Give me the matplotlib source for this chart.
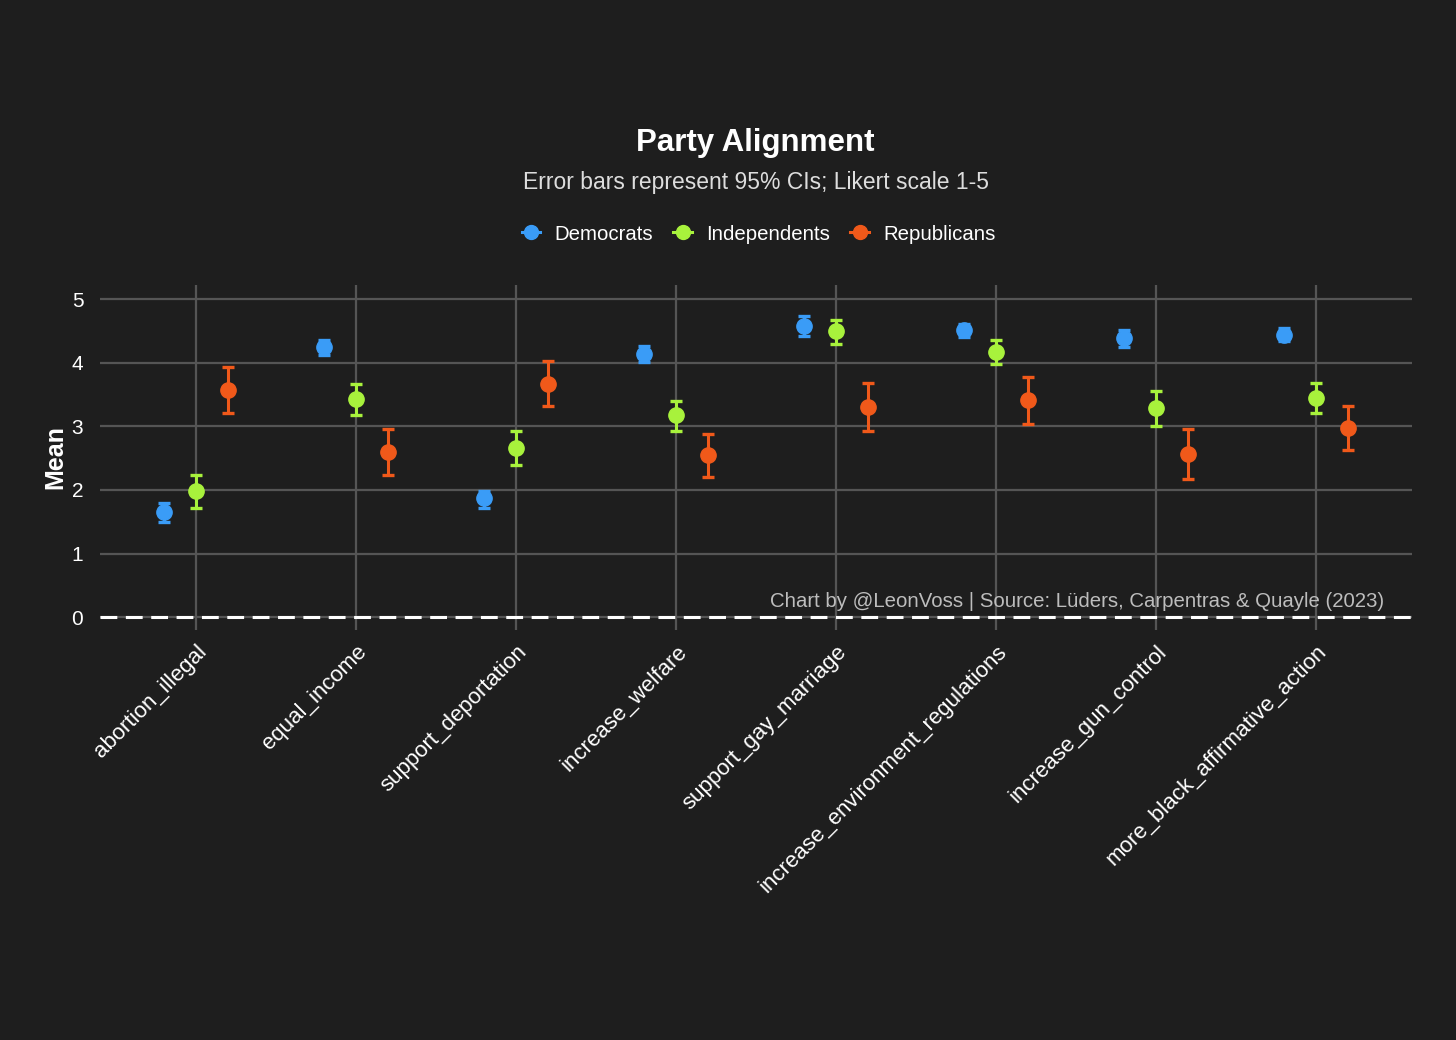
import matplotlib.pyplot as plt
from matplotlib.lines import Line2D
import numpy as np

plt.rcParams['font.family'] = ['Liberation Sans', 'DejaVu Sans']

# data
items = ["abortion_illegal", "equal_income", "support_deportation", "increase_welfare",
         "support_gay_marriage", "increase_environment_regulations",
         "increase_gun_control", "more_black_affirmative_action"]
parties = ["Democrats", "Independents", "Republicans"]

dem_mean = [1.65, 4.25, 1.87, 4.14, 4.58, 4.51, 4.39, 4.44]
dem_lo = [1.49, 4.12, 1.71, 4.01, 4.42, 4.40, 4.25, 4.34]
dem_hi = [1.80, 4.36, 1.99, 4.26, 4.73, 4.61, 4.51, 4.55]

ind_mean = [1.99, 3.43, 2.66, 3.17, 4.50, 4.17, 3.29, 3.45]
ind_lo = [1.72, 3.18, 2.40, 2.92, 4.29, 3.98, 3.01, 3.21]
ind_hi = [2.24, 3.67, 2.92, 3.40, 4.67, 4.36, 3.56, 3.68]

rep_mean = [3.57, 2.59, 3.67, 2.55, 3.31, 3.42, 2.57, 2.98]
rep_lo = [3.21, 2.24, 3.32, 2.21, 2.92, 3.04, 2.18, 2.63]
rep_hi = [3.93, 2.95, 4.03, 2.88, 3.68, 3.78, 2.96, 3.32]

colors = ["#3a9cf7", "#a8f23c", "#f0591a"]
bg = "#1e1e1e"

fig = plt.figure(figsize=(14.56, 10.4), dpi=100, facecolor=bg)
ax = fig.add_axes([100 / 1456, 1 - 630 / 1040, 1312 / 1456, 345 / 1040])
ax.set_facecolor(bg)

x = np.arange(1, len(items) + 1)
series = [(dem_mean, dem_lo, dem_hi), (ind_mean, ind_lo, ind_hi), (rep_mean, rep_lo, rep_hi)]
offsets = [-0.2, 0.0, 0.2]
for (m, lo, hi), off, c in zip(series, offsets, colors):
    m = np.array(m)
    err = [m - np.array(lo), np.array(hi) - m]
    ax.errorbar(x + off, m, yerr=err, fmt='o', color=c, ms=11, elinewidth=2.2,
                capsize=4.6, capthick=2.4, zorder=3)

# zero reference line
ax.axhline(0, color='white', lw=2.2, dashes=(5.5, 2.8), zorder=2)

ax.set_xlim(0.4, 8.6)
ax.set_ylim(-0.2, 5.22)
ax.set_yticks([0, 1, 2, 3, 4, 5])
ax.set_xticks(x)
ax.set_xticklabels(items, rotation=45, ha='right', va='top', rotation_mode='anchor')
ax.grid(True, color='#555555', lw=1.6, zorder=0)
ax.set_axisbelow(True)
ax.tick_params(length=0, colors='white', labelsize=15, pad=8)
ax.tick_params(axis='x', labelsize=16)
ax.tick_params(axis='y', pad=12)
for s in ax.spines.values():
    s.set_visible(False)
ax.set_ylabel("Mean", color='white', fontsize=18, fontweight='bold', labelpad=3)

ax.text(0.979, 0.083, "Chart by @LeonVoss | Source: Lüders, Carpentras & Quayle (2023)",
        transform=ax.transAxes, ha='right', va='center', color='#bdbdbd', fontsize=14.7)

fig.text(0.519, 1 - 143 / 1040, "Party Alignment", ha='center', va='center',
         color='white', fontsize=22.5, fontweight='bold')
fig.text(0.519, 1 - 182 / 1040, "Error bars represent 95% CIs; Likert scale 1-5",
         ha='center', va='center', color='#dddddd', fontsize=16.5)

handles = [Line2D([0], [0], color=c, marker='o', ms=10, lw=2.2) for c in colors]
fig.legend(handles, parties, loc='center', bbox_to_anchor=(0.521, 1 - 234 / 1040), ncol=3,
           frameon=False, fontsize=14.7, labelcolor='white', handlelength=0.9,
           handletextpad=0.7, columnspacing=1.0)

fig.savefig("out.png", dpi=100, facecolor=bg)
